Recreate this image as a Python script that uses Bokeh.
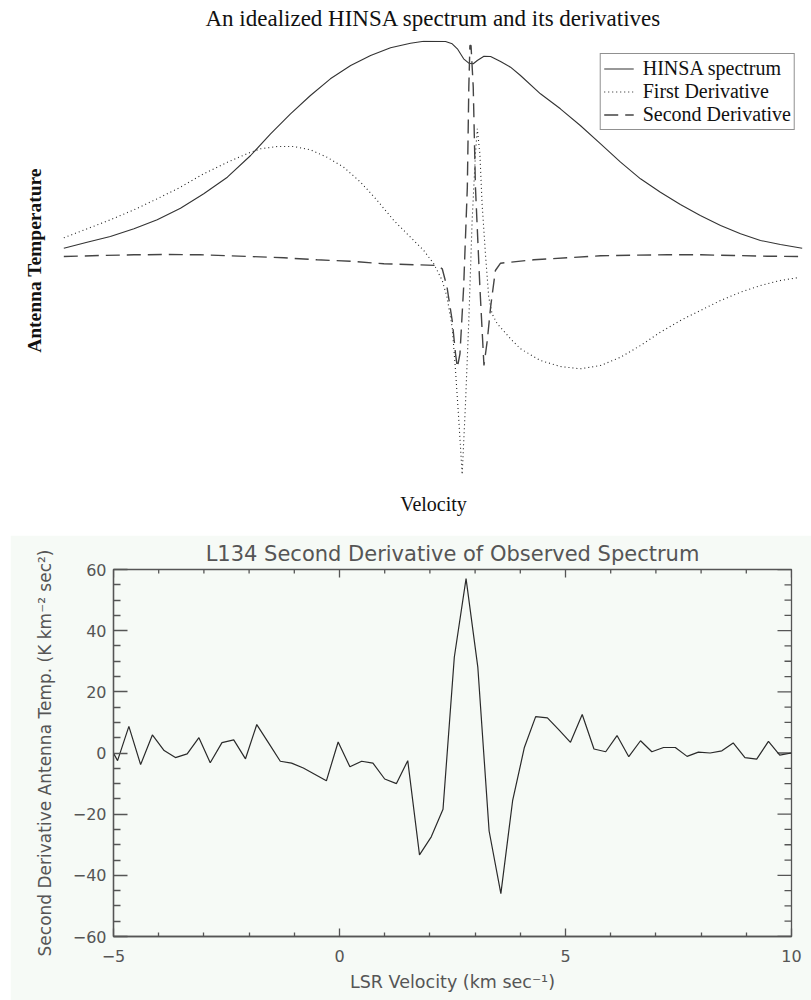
from bokeh.plotting import figure
from bokeh.models import Range1d, FixedTicker, Legend, LegendItem, Title
from bokeh.embed import file_html
from bokeh.resources import INLINE

# ---------------- Top panel data (idealized HINSA spectrum, arbitrary units) ----------------
hinsa_vel = [-10.0, -9.37, -8.74, -8.10, -7.47, -6.84, -6.21, -5.57, -4.94, -4.40, -3.86, -3.32,
             -2.78, -2.23, -1.69, -1.15, -0.61, -0.25, 0.34, 0.52, 0.66, 0.83, 0.97, 1.09, 1.20,
             1.38, 1.56, 1.83, 2.10, 2.37, 2.91, 3.45, 3.99, 4.54, 5.08, 5.62, 6.16, 6.70, 7.24,
             7.79, 8.33, 8.87, 9.41, 10.0]
hinsa_temp = [0.83, 1.43, 2.00, 2.77, 3.67, 4.83, 6.27, 7.93, 10.10, 12.27, 14.27, 16.10,
              17.77, 19.10, 20.10, 20.87, 21.33, 21.53, 21.50, 21.27, 20.77, 19.77, 19.33, 19.27, 19.60,
              20.03, 20.00, 19.50, 18.93, 18.10, 16.27, 14.77, 13.10, 11.27, 9.43, 7.77, 6.43, 5.20, 4.10,
              3.10, 2.27, 1.60, 1.20, 0.83]

d1_vel = [-10.0, -9.37, -8.74, -8.10, -7.47, -6.84, -6.21, -5.57, -4.94, -4.67, -4.22, -3.77,
          -3.32, -2.87, -2.42, -1.96, -1.51, -1.06, -0.61, -0.25, 0.02, 0.25, 0.38, 0.52, 0.61,
          0.70, 0.79, 0.88, 0.97, 1.06, 1.15, 1.20, 1.27, 1.33, 1.42, 1.51, 1.60, 1.74, 2.10,
          2.37, 2.91, 3.45, 3.99, 4.54, 5.08, 5.62, 6.16, 6.70, 7.24, 7.79, 8.33, 8.87, 9.41, 9.86]
d1_val = [1.87, 2.77, 3.67, 4.67, 5.77, 6.93, 8.27, 9.43, 10.43, 10.77, 11.0, 11.0,
          10.67, 9.93, 8.93, 7.43, 5.60, 3.60, 1.93, 0.60, -0.73, -2.40, -4.07, -7.07, -11.4,
          -16.4, -21.8, -14.73, -6.40, 3.60, 10.27, 12.77, 10.27, 5.27, 0.27, -4.07, -5.73, -6.73, -8.23,
          -9.23, -10.4, -11.0, -11.23, -10.9, -10.07, -8.90, -7.57, -6.40, -5.40, -4.40, -3.57, -2.90, -2.40, -2.13]

d2_vel = [-10.0, -9.0, -8.10, -7.20, -6.30, -4.94, -4.04, -3.14, -2.23, -1.33, -0.43, 0.11,
          0.25, 0.38, 0.52, 0.61, 0.66, 0.73, 0.83, 0.93, 0.97, 1.00, 1.03, 1.09, 1.15, 1.27,
          1.38, 1.47, 1.56, 1.69, 1.83, 2.10, 2.73, 3.63, 4.54, 5.44, 6.34, 7.25, 8.15, 9.05, 10.0]
d2_val = [0.0, 0.10, 0.17, 0.20, 0.17, 0.0, -0.13, -0.33, -0.47, -0.73, -0.83, -0.90,
          -1.23, -3.07, -6.40, -9.73, -11.1, -9.73, -3.07, 6.93, 16.93, 21.1, 21.1, 16.93, 6.93, -3.07,
          -10.9, -8.40, -5.07, -1.40, -0.67, -0.57, -0.33, -0.13, 0.07, 0.13, 0.17, 0.17, 0.10, 0.03, 0.0]

# ---------------- Bottom panel data (L134 observed second derivative) ----------------
obs_vel = [-5.17, -4.91, -4.66, -4.40, -4.14, -3.88, -3.63, -3.37, -3.11, -2.86, -2.60, -2.34,
           -2.08, -1.83, -1.57, -1.31, -1.06, -0.80, -0.54, -0.29, -0.03, 0.23, 0.49, 0.74,
           1.00, 1.26, 1.51, 1.77, 2.03, 2.29, 2.54, 2.80, 3.06, 3.31, 3.57, 3.83, 4.09, 4.34,
           4.60, 4.86, 5.11, 5.37, 5.63, 5.89, 6.14, 6.40, 6.66, 6.91, 7.17, 7.43, 7.69, 7.94,
           8.20, 8.46, 8.71, 8.97, 9.23, 9.49, 9.74, 10.00]
obs_d2 = [4.5, -2.5, 8.7, -3.8, 5.9, 0.8, -1.5, -0.3, 5.0, -3.2, 3.4, 4.3,
          -1.9, 9.3, 3.3, -2.7, -3.3, -4.9, -7.0, -9.1, 3.6, -4.5, -2.7, -3.3,
          -8.5, -10.0, -2.5, -33.3, -27.4, -18.4, 31.3, 57.0, 28.1, -25.5, -46.0, -15.6, 1.8, 11.9,
          11.5, 7.5, 3.5, 12.6, 1.3, 0.4, 5.7, -1.2, 4.0, 0.4, 1.8, 1.8, -1.1, 0.3,
          0.0, 0.7, 3.3, -1.5, -2.0, 3.8, -0.7, 0.0]

# axis tick values of the observed-spectrum panel
obs_x_major = [-5, 0, 5, 10]
obs_x_minor = [-4, -3, -2, -1, 1, 2, 3, 4, 6, 7, 8, 9]
obs_y_major = [-60, -40, -20, 0, 20, 40, 60]
obs_y_minor = [-55, -50, -45, -35, -30, -25, -15, -10, -5, 5, 10, 15, 25, 30, 35, 45, 50, 55]

SERIF = "Liberation Serif"
SANS = "DejaVu Sans"

# ================= Top figure =================
x1 = Range1d(-10.144, 10.171)
y1 = Range1d(-22.4, 21.6)
p1 = figure(width=811, height=543, x_range=x1, y_range=y1, title=None,
            output_backend="svg", toolbar_location=None,
            min_border_left=58, min_border_right=3, min_border_top=48, min_border_bottom=55)
p1.margin = (-8, 0, 0, 0)
p1.outline_line_color = None
p1.xgrid.visible = False
p1.ygrid.visible = False

p1.add_layout(Title(text="An idealized HINSA spectrum and its derivatives",
                    text_font=SERIF, text_font_size="23px", text_font_style="normal",
                    text_color="#111111", align="center", standoff=20), "above")

for ax in (p1.xaxis[0], p1.yaxis[0]):
    ax.ticker = FixedTicker(ticks=[])
    ax.axis_line_color = None
    ax.major_tick_in = 0
    ax.major_tick_out = 0
    ax.minor_tick_in = 0
    ax.minor_tick_out = 0
    ax.major_label_standoff = 0
    ax.axis_label_text_font = SERIF
    ax.axis_label_text_color = "#111111"

p1.xaxis[0].axis_label = "Velocity"
p1.xaxis[0].axis_label_text_font_size = "20px"
p1.xaxis[0].axis_label_text_font_style = "normal"
p1.xaxis[0].axis_label_standoff = 12
p1.yaxis[0].axis_label = "Antenna Temperature"
p1.yaxis[0].axis_label_text_font_size = "19.5px"
p1.yaxis[0].axis_label_text_font_style = "bold"
p1.yaxis[0].axis_label_standoff = 14

r_h = p1.line(hinsa_vel, hinsa_temp, line_color="#333333", line_width=1.1)
r_d1 = p1.line(d1_vel, d1_val, line_color="#222222", line_width=1.1, line_dash="1 3")
r_d2 = p1.line(d2_vel, d2_val, line_color="#444444", line_width=1.4, line_dash="14 7")

legend = Legend(items=[LegendItem(label="HINSA spectrum", renderers=[r_h]),
                       LegendItem(label="First Derivative", renderers=[r_d1]),
                       LegendItem(label="Second Derivative", renderers=[r_d2])],
                location="top_right")
legend.border_line_color = "#222222"
legend.border_line_width = 1
legend.background_fill_color = "white"
legend.background_fill_alpha = 1
legend.label_text_font = SERIF
legend.label_text_font_size = "20px"
legend.label_text_color = "#111111"
legend.glyph_width = 30
legend.glyph_height = 23
legend.label_height = 23
legend.label_standoff = 9
legend.spacing = 0
legend.padding = 3
legend.margin = 13
p1.add_layout(legend)

# ================= Bottom figure =================
BG = "#f6faf6"
AX = "#555555"
x2 = Range1d(-5, 10)
y2 = Range1d(-60, 60)
p2 = figure(width=801, height=465, x_range=x2, y_range=y2, title=None,
            output_backend="svg", toolbar_location=None,
            background_fill_color=BG, border_fill_color=BG,
            min_border_left=103, min_border_right=20, min_border_top=34, min_border_bottom=64)
p2.margin = (0, 0, 0, 10)
p2.xgrid.visible = False
p2.ygrid.visible = False
p2.outline_line_color = AX
p2.outline_line_width = 1.3

p2.add_layout(Title(text="L134 Second Derivative of Observed Spectrum",
                    text_font=SANS, text_font_size="21px", text_font_style="normal",
                    text_color="#555555", align="center", standoff=7,
                    text_line_height=0.7), "above")

xa = p2.xaxis[0]
ya = p2.yaxis[0]
xa.ticker = FixedTicker(ticks=obs_x_major, minor_ticks=obs_x_minor)
ya.ticker = FixedTicker(ticks=obs_y_major, minor_ticks=obs_y_minor)
xa.major_label_overrides = {-5: "\u22125"}
ya.major_label_overrides = {-60: "\u221260", -40: "\u221240", -20: "\u221220"}

def style_axis(ax, major_len, minor_len):
    ax.axis_line_color = AX
    ax.axis_line_width = 1.3
    ax.major_tick_line_color = AX
    ax.minor_tick_line_color = AX
    ax.major_tick_line_width = 1.3
    ax.minor_tick_line_width = 1.3
    ax.major_tick_in = major_len
    ax.major_tick_out = 0
    ax.minor_tick_in = minor_len
    ax.minor_tick_out = 0
    ax.major_label_text_font = SANS
    ax.major_label_text_font_size = "16px"
    ax.major_label_text_color = "#555555"

style_axis(xa, 8, 4)
style_axis(ya, 14, 7)
xa.major_label_standoff = 13
ya.major_label_standoff = 7
xa.axis_label = "LSR Velocity (km sec\u207b\u00b9)"
ya.axis_label = "Second Derivative Antenna Temp. (K km\u207b\u00b2 sec\u00b2)"
for ax in (xa, ya):
    ax.axis_label_text_font = SANS
    ax.axis_label_text_font_style = "normal"
    ax.axis_label_text_color = "#555555"
xa.axis_label_text_font_size = "17.5px"
ya.axis_label_text_font_size = "17px"
xa.axis_label_standoff = 7
ya.axis_label_standoff = 15

# mirrored inward ticks on the top and right edges of the frame
top_major_y = [y2.end] * len(obs_x_major)
top_minor_y = [y2.end] * len(obs_x_minor)
right_major_x = [x2.end] * len(obs_y_major)
right_minor_x = [x2.end] * len(obs_y_minor)
p2.ray(obs_x_major, top_major_y, length=8, angle=-90, angle_units="deg", length_units="screen",
       line_color=AX, line_width=1.3)
p2.ray(obs_x_minor, top_minor_y, length=4, angle=-90, angle_units="deg", length_units="screen",
       line_color=AX, line_width=1.3)
p2.ray(right_major_x, obs_y_major, length=14, angle=180, angle_units="deg", length_units="screen",
       line_color=AX, line_width=1.3)
p2.ray(right_minor_x, obs_y_minor, length=7, angle=180, angle_units="deg", length_units="screen",
       line_color=AX, line_width=1.3)

p2.line(obs_vel, obs_d2, line_color="#2a2a2a", line_width=1.2)

open("out.html", "w").write(file_html([p1, p2], INLINE))
